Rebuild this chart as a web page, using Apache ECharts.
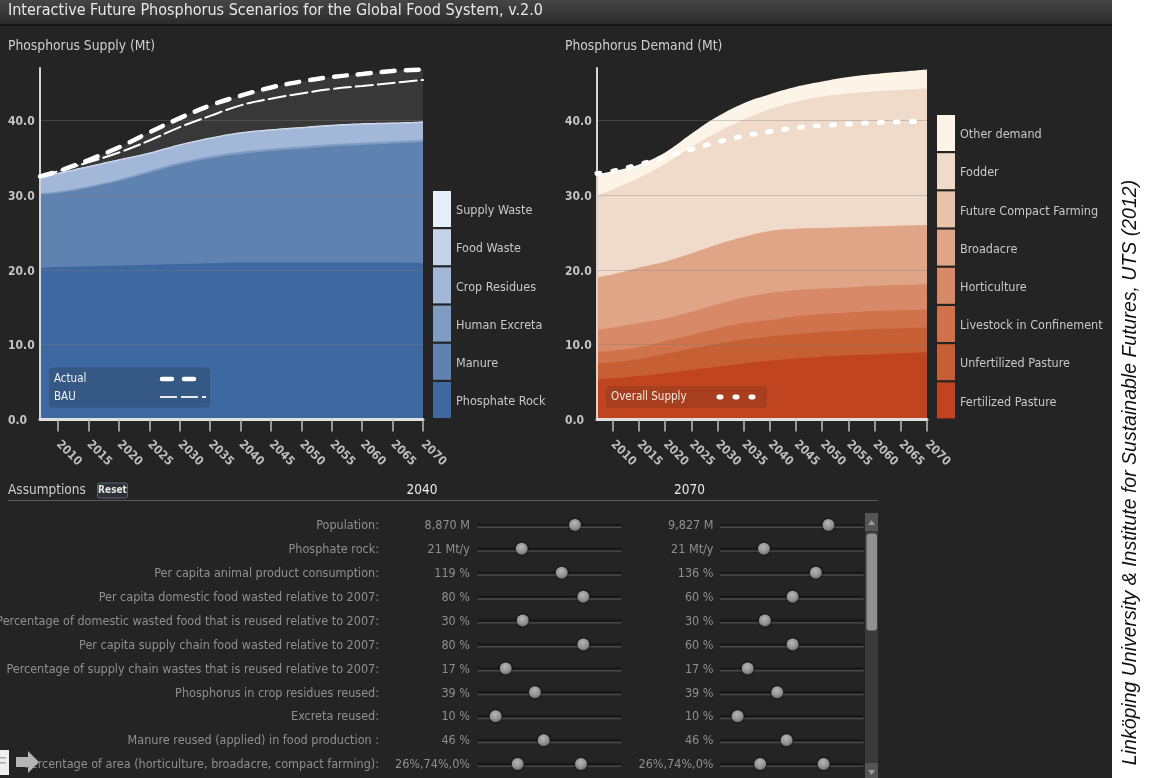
<!DOCTYPE html>
<html>
<head>
<meta charset="utf-8">
<title>Phosphorus scenarios</title>
<style>
	html, body { margin: 0; padding: 0; background: #fff; }
	#main { width: 1149px; height: 778px; }
</style>
<script src="https://cdn.jsdelivr.net/npm/echarts@6/dist/echarts.min.js"></script>
</head>
<body>
<div id="main"></div>
<script>
	var font = 'DejaVu Sans Condensed';

	var years = [2007, 2010, 2015, 2020, 2025, 2030, 2035, 2040, 2045, 2050, 2055, 2060, 2065, 2070];
	var tickYears = [2010, 2015, 2020, 2025, 2030, 2035, 2040, 2045, 2050, 2055, 2060, 2065, 2070];

	// supply layers, bottom to top
	var phosphateRock = [20.3, 20.4, 20.5, 20.6, 20.7, 20.8, 20.9, 21, 21, 21, 21, 21, 21, 20.9];
	var manure = [9.8, 9.9, 10.5, 11.3, 12.3, 13.3, 14, 14.5, 14.9, 15.2, 15.5, 15.7, 15.9, 16.2];
	var humanExcreta = [0.2, 0.2, 0.2, 0.2, 0.25, 0.25, 0.3, 0.3, 0.3, 0.3, 0.3, 0.3, 0.3, 0.3];
	var cropResidues = [2, 2.3, 2.5, 2.5, 2.25, 2.25, 2.3, 2.4, 2.4, 2.4, 2.4, 2.4, 2.3, 2.25];
	var foodWaste = [0.15, 0.15, 0.15, 0.15, 0.15, 0.15, 0.15, 0.15, 0.15, 0.15, 0.15, 0.15, 0.15, 0.15];
	var supplyWaste = [0.05, 0.05, 0.05, 0.05, 0.05, 0.05, 0.05, 0.05, 0.05, 0.05, 0.05, 0.05, 0.05, 0.05];
	var actualLine = [32.5, 33.2, 34.7, 36.4, 38.4, 40.3, 42, 43.3, 44.4, 45.2, 45.8, 46.2, 46.6, 46.8];
	var bauLine = [32.5, 33.2, 34.4, 35.7, 37.3, 39.1, 40.6, 42, 42.9, 43.6, 44.2, 44.6, 45, 45.4];

	// demand layers, bottom to top
	var fertilizedPasture = [5.4, 5.5, 5.8, 6.2, 6.65, 7.05, 7.5, 7.85, 8.15, 8.4, 8.6, 8.7, 8.85, 9];
	var unfertilizedPasture = [2.15, 2.15, 2.3, 2.55, 2.85, 3.05, 3.2, 3.25, 3.25, 3.3, 3.3, 3.4, 3.35, 3.3];
	var livestock = [1.45, 1.55, 1.55, 1.75, 1.8, 2.1, 2.2, 2.2, 2.4, 2.4, 2.4, 2.4, 2.4, 2.4];
	var horticulture = [3, 3.1, 3.25, 3, 3.1, 3.2, 3.4, 3.6, 3.5, 3.4, 3.4, 3.4, 3.4, 3.4];
	var broadacre = [7, 7.1, 7.4, 7.6, 7.8, 8, 8.1, 8.3, 8.2, 8.1, 8, 7.9, 7.9, 7.9];
	var compactFarming = [0, 0, 0, 0, 0, 0, 0, 0, 0, 0, 0, 0, 0, 0];
	var fodder = [11, 11.4, 12, 13.1, 14.2, 15, 15.7, 16.3, 17, 17.6, 17.9, 18.1, 18.2, 18.3];
	var otherDemand = [2.8, 2.4, 1.8, 1.5, 1.8, 2.1, 2.2, 2, 2, 2, 2.2, 2.3, 2.4, 2.5];
	var overallSupply = [32.9, 33.2, 34.1, 35.1, 36.1, 37.1, 37.9, 38.5, 39, 39.3, 39.5, 39.7, 39.8, 39.9];

	var supplyNames = ['Supply Waste', 'Food Waste', 'Crop Residues', 'Human Excreta', 'Manure', 'Phosphate Rock'];
	var demandNames = ['Other demand', 'Fodder', 'Future Compact Farming', 'Broadacre', 'Horticulture', 'Livestock in Confinement', 'Unfertilized Pasture', 'Fertilized Pasture'];
	var supplyColors = ['#e6eefa', '#c4d3e8', '#a3b8d8', '#7f9cc2', '#5f82b0', '#3d68a0'];
	var demandColors = ['#fdf4e8', '#f0dbca', '#e8c3ab', '#e0a587', '#d88a68', '#d0734c', '#c65f34', '#c04420'];

	var assumptions = [
		'Population:', 'Phosphate rock:', 'Per capita animal product consumption:',
		'Per capita domestic food wasted relative to 2007:',
		'Percentage of domestic wasted food that is reused relative to 2007:',
		'Per capita supply chain food wasted relative to 2007:',
		'Percentage of supply chain wastes that is reused relative to 2007:',
		'Phosphorus in crop residues reused:', 'Excreta reused:',
		'Manure reused (applied) in food production :',
		'Percentage of area (horticulture, broadacre, compact farming):'
	];
	var labels2040 = ['8,870 M', '21 Mt/y', '119 %', '80 %', '30 %', '80 %', '17 %', '39 %', '10 %', '46 %', '26%,74%,0%'];
	var labels2070 = ['9,827 M', '21 Mt/y', '136 %', '60 %', '30 %', '60 %', '17 %', '39 %', '10 %', '46 %', '26%,74%,0%'];
	// handle position along each slider track, percent of the track
	var slider2040 = [67.7, 30.7, 58.5, 73.5, 31.4, 73.5, 19.6, 39.9, 12.6, 46, 27.9];
	var slider2070 = [75.6, 30.6, 66.8, 50.6, 31.3, 50.6, 19.3, 39.9, 12.3, 46.4, 28];
	var areaHandle2040 = 71.9;
	var areaHandle2070 = 72.2;
	var trackFull = [100, 100, 100, 100, 100, 100, 100, 100, 100, 100, 100];

	function pairs(values) {
		return values.map(function (v, i) { return [years[i], v]; });
	}

	// layers come top to bottom, like the legends. each one is painted down to the
	// axis at its running total, so the lower layers cover the rest of it
	function layerSeries(names, colors, layers, gridIdx) {
		return names.map(function (name, n) {
			var totals = years.map(function (y, i) {
				var sum = 0;
				for (var k = n; k < layers.length; k++) { sum += layers[k][i]; }
				return Math.round(sum * 100) / 100;
			});
			return {
				name: name,
				type: 'line',
				smooth: 0.4,
				showSymbol: false,
				silent: true,
				xAxisIndex: gridIdx,
				yAxisIndex: gridIdx,
				data: pairs(totals),
				itemStyle: { color: colors[n] },
				lineStyle: { width: 0 },
				areaStyle: { color: colors[n], opacity: 1 },
				z: 2
			};
		});
	}

	function dashSeries(name, values, width, dash, gridIdx) {
		return {
			name: name,
			type: 'line',
			smooth: 0.4,
			showSymbol: false,
			silent: true,
			clip: false,
			xAxisIndex: gridIdx,
			yAxisIndex: gridIdx,
			data: pairs(values),
			lineStyle: { color: '#fff', width: width, type: dash, cap: 'round' },
			z: 6
		};
	}

	function chartXAxis(gridIdx) {
		return {
			gridIndex: gridIdx,
			type: 'value',
			min: 2007,
			max: 2070,
			z: 4,
			splitLine: { show: false },
			axisLine: { lineStyle: { color: '#dfe0e2', width: 3 } },
			axisTick: { customValues: tickYears, length: 12, lineStyle: { color: '#bdbdbd', width: 1.5 } },
			axisLabel: {
				customValues: tickYears,
				rotate: -45,
				margin: 23,
				color: '#bdbdbd',
				fontFamily: font,
				fontSize: 12,
				fontWeight: 'bold',
				formatter: function (v) { return String(v); }
			}
		};
	}

	function chartYAxis(gridIdx) {
		return {
			gridIndex: gridIdx,
			type: 'value',
			min: 0,
			max: 47,
			interval: 10,
			z: 4,
			axisLine: { show: true, onZero: false, lineStyle: { color: '#d5d5d5', width: 2 } },
			axisTick: { show: false },
			splitLine: { showMaxLine: false, lineStyle: { color: 'rgba(130,125,120,0.35)', width: 1 } },
			axisLabel: {
				showMaxLabel: false,
				align: 'left',
				margin: 32,
				formatter: function (v) { return '{t|' + v.toFixed(1) + '}'; },
				rich: {
					t: { padding: [3, 0, 0, 0], color: '#c4c4c4', fontFamily: font, fontSize: 12, fontWeight: 'bold' }
				}
			}
		};
	}

	function sliderXAxis(gridIdx) {
		return { gridIndex: gridIdx, type: 'value', min: 0, max: 100, show: false };
	}

	function sliderYAxis(gridIdx, data, margin) {
		return {
			gridIndex: gridIdx,
			type: 'category',
			inverse: true,
			position: 'left',
			data: data,
			axisLine: { show: false },
			axisTick: { show: false },
			splitLine: { show: false },
			axisLabel: { interval: 0, margin: margin, color: '#8f8f8f', fontFamily: font, fontSize: 12.5 }
		};
	}

	function trackSeries(xIdx, yIdx) {
		return {
			type: 'bar',
			silent: true,
			xAxisIndex: xIdx,
			yAxisIndex: yIdx,
			barWidth: 4,
			data: trackFull,
			itemStyle: {
				color: { type: 'linear', x: 0, y: 0, x2: 0, y2: 1, colorStops: [
					{ offset: 0, color: '#141414' }, { offset: 0.5, color: '#1b1b1b' }, { offset: 0.75, color: '#4a4a4a' }, { offset: 1, color: '#4a4a4a' }
				] }
			}
		};
	}

	function handleSeries(xIdx, yIdx, values, second) {
		var data = values.map(function (v, i) { return [v, i]; });
		data.push([second, values.length - 1]);
		return {
			type: 'scatter',
			silent: true,
			xAxisIndex: xIdx,
			yAxisIndex: yIdx,
			symbolSize: 12,
			symbolOffset: [0, -1],
			data: data,
			itemStyle: {
				color: { type: 'radial', x: 0.45, y: 0.35, r: 0.7, colorStops: [
					{ offset: 0, color: '#e2e2e2' }, { offset: 0.6, color: '#b4b4b4' }, { offset: 1, color: '#787878' }
				] },
				shadowBlur: 3,
				shadowColor: '#000'
			},
			z: 5
		};
	}

	var supplyLayers = [supplyWaste, foodWaste, cropResidues, humanExcreta, manure, phosphateRock];
	var demandLayers = [otherDemand, fodder, compactFarming, broadacre, horticulture, livestock, unfertilizedPasture, fertilizedPasture];

	var series = [{
		name: 'Actual area',
		type: 'line',
		smooth: 0.4,
		showSymbol: false,
		silent: true,
		xAxisIndex: 0,
		yAxisIndex: 0,
		data: pairs(actualLine),
		lineStyle: { width: 0 },
		areaStyle: { color: '#383838', opacity: 1 },
		z: 1
	}];
	series = series.concat(layerSeries(supplyNames, supplyColors, supplyLayers, 0));
	series.push(dashSeries('Actual', actualLine, 4.5, [13, 11], 0));
	series.push(dashSeries('BAU', bauLine, 2, [17, 5], 0));
	series = series.concat(layerSeries(demandNames, demandColors, demandLayers, 1));
	series.push(dashSeries('Overall Supply', overallSupply, 5, [3, 13], 1));
	series.push(trackSeries(2, 2), handleSeries(2, 2, slider2040, areaHandle2040));
	series.push(trackSeries(3, 4), handleSeries(3, 4, slider2070, areaHandle2070));

	function legendFor(names, left, top) {
		return {
			orient: 'vertical',
			left: left,
			top: top,
			padding: 0,
			data: names,
			icon: 'rect',
			itemWidth: 18,
			itemHeight: 36,
			itemGap: 2.2,
			itemStyle: { borderWidth: 0 },
			selectedMode: false,
			formatter: '{t|{name}}',
			textStyle: {
				rich: {
					t: { padding: [4, 0, 0, 0], color: '#c8c8c8', fontFamily: font, fontSize: 12.5 }
				}
			}
		};
	}

	function label(text, x, y, size, color, extra) {
		var style = { text: text, x: x, y: y, fontFamily: font, fontSize: size, fill: color, verticalAlign: 'middle' };
		for (var k in extra) { style[k] = extra[k]; }
		return { type: 'text', z: 11, silent: true, style: style };
	}

	var graphics = [
		// white strip with the credit line
		{ type: 'rect', z: 10, silent: true, shape: { x: 1112, y: 0, width: 37, height: 778 }, style: { fill: '#fff' } },
		{
			type: 'text', z: 11, silent: true, x: 1131, y: 472.5, rotation: Math.PI / 2,
			style: {
				text: 'Linköping University & Institute for Sustainable Futures, UTS (2012)',
				fontFamily: 'Liberation Sans', fontStyle: 'italic', fontSize: 19.5, fill: '#111',
				align: 'center', verticalAlign: 'middle'
			}
		},
		// header band
		{
			type: 'rect', z: 10, silent: true, shape: { x: 0, y: 0, width: 1112, height: 24 },
			style: { fill: { type: 'linear', x: 0, y: 0, x2: 0, y2: 1, colorStops: [{ offset: 0, color: '#454545' }, { offset: 1, color: '#2c2c2c' }] } }
		},
		{ type: 'rect', z: 10, silent: true, shape: { x: 0, y: 24, width: 1112, height: 2 }, style: { fill: '#161616' } },
		label('Interactive Future Phosphorus Scenarios for the Global Food System, v.2.0', 8, 11, 16, '#e8e8e8'),
		label('Phosphorus Supply (Mt)', 8, 46.5, 13.75, '#cfcfcf'),
		label('Phosphorus Demand (Mt)', 565, 46.5, 13.75, '#cfcfcf'),

		// inline key, supply chart
		{ type: 'rect', z: 10, silent: true, shape: { x: 49, y: 367.5, width: 161, height: 40, r: 4 }, style: { fill: 'rgba(50,75,110,0.55)' } },
		label('Actual', 54, 379, 11.5, '#f0f0f0'),
		label('BAU', 54, 397, 11.5, '#f0f0f0'),
		{ type: 'line', z: 11, silent: true, shape: { x1: 162, y1: 379, x2: 196, y2: 379 }, style: { stroke: '#fff', lineWidth: 4.5, lineCap: 'round', lineDash: [10, 12] } },
		{ type: 'line', z: 11, silent: true, shape: { x1: 160, y1: 397, x2: 206, y2: 397 }, style: { stroke: '#e8e8e8', lineWidth: 2, lineDash: [17, 4] } },

		// inline key, demand chart
		{ type: 'rect', z: 10, silent: true, shape: { x: 606, y: 386, width: 161, height: 22, r: 4 }, style: { fill: 'rgba(150,60,30,0.6)' } },
		label('Overall Supply', 611, 397, 11.5, '#f5e6dc'),
		{ type: 'line', z: 11, silent: true, shape: { x1: 719, y1: 397, x2: 753, y2: 397 }, style: { stroke: '#fff', lineWidth: 5, lineCap: 'round', lineDash: [2, 14] } },

		// assumptions header
		label('Assumptions', 8, 490.5, 13.5, '#cfcfcf'),
		{ type: 'rect', z: 10, silent: true, shape: { x: 97.5, y: 483, width: 30, height: 15, r: 2 }, style: { fill: '#2c3138', stroke: '#59626c', lineWidth: 1 } },
		label('Reset', 112.5, 490.5, 10, '#e6e6e6', { align: 'center', fontWeight: 'bold' }),
		label('2040', 422, 490.5, 13.5, '#e8e8e8', { align: 'center' }),
		label('2070', 689.5, 490.5, 13.5, '#e8e8e8', { align: 'center' }),
		{ type: 'line', z: 10, silent: true, shape: { x1: 8, y1: 500.5, x2: 878, y2: 500.5 }, style: { stroke: '#5a5a5a', lineWidth: 1 } },

		// scrollbar
		{ type: 'rect', z: 10, silent: true, shape: { x: 865, y: 513, width: 13, height: 265 }, style: { fill: '#3a3a3a' } },
		{ type: 'rect', z: 10, silent: true, shape: { x: 865, y: 513, width: 13, height: 18 }, style: { fill: '#555' } },
		{ type: 'rect', z: 10, silent: true, shape: { x: 865, y: 763, width: 13, height: 15 }, style: { fill: '#555' } },
		{ type: 'rect', z: 11, silent: true, shape: { x: 866.5, y: 533.5, width: 10.5, height: 97, r: 3 }, style: { fill: '#909090' } },
		{ type: 'polygon', z: 11, silent: true, shape: { points: [[871.5, 520], [868, 525], [875, 525]] }, style: { fill: '#9a9a9a' } },
		{ type: 'polygon', z: 11, silent: true, shape: { points: [[871.5, 775], [868, 770], [875, 770]] }, style: { fill: '#9a9a9a' } },

		// slideshow controls sitting on top of the last row
		{ type: 'rect', z: 12, silent: true, shape: { x: 0, y: 750, width: 9, height: 25 }, style: { fill: '#eee' } },
		{ type: 'rect', z: 12, silent: true, shape: { x: 0, y: 757, width: 6, height: 1.5 }, style: { fill: '#aaa' } },
		{ type: 'rect', z: 12, silent: true, shape: { x: 0, y: 762, width: 6, height: 1.5 }, style: { fill: '#aaa' } },
		{ type: 'polygon', z: 12, silent: true, shape: { points: [[16, 757], [28, 757], [28, 751], [39, 762], [28, 773], [28, 767], [16, 767]] }, style: { fill: '#b5b5b5' } }
	];

	var myChart = echarts.init(document.getElementById('main'));
	myChart.setOption({
		animation: false,
		backgroundColor: '#242424',
		grid: [
			{ left: 40, top: 68, width: 383, height: 351.5, outerBoundsMode: 'none' },
			{ left: 597, top: 68, width: 330, height: 351.5, outerBoundsMode: 'none' },
			{ left: 477.5, top: 514, width: 144, height: 263, outerBoundsMode: 'none' },
			{ left: 720, top: 514, width: 143.5, height: 263, outerBoundsMode: 'none' }
		],
		xAxis: [chartXAxis(0), chartXAxis(1), sliderXAxis(2), sliderXAxis(3)],
		yAxis: [
			chartYAxis(0),
			chartYAxis(1),
			sliderYAxis(2, assumptions, 98.5),
			sliderYAxis(2, labels2040, 7.5),
			sliderYAxis(3, labels2070, 6.5)
		],
		legend: [legendFor(supplyNames, 433, 191), legendFor(demandNames, 937, 115)],
		series: series,
		graphic: graphics
	});
</script>
</body>
</html>
